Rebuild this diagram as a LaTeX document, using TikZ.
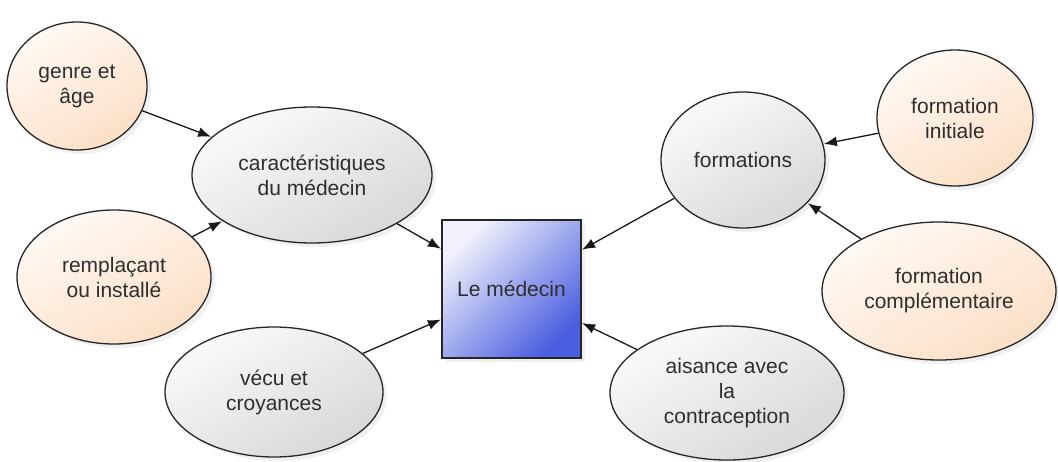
\documentclass[tikz,border=0pt]{standalone}
\usepackage{fontspec}
\setmainfont{Liberation Sans}
\usetikzlibrary{shapes.geometric,shadows,arrows.meta}
\definecolor{txt}{HTML}{2E2E2E}
\definecolor{greyA}{HTML}{FAFAFA}
\definecolor{greyB}{HTML}{D8D8D8}
\definecolor{orA}{HTML}{FFF9F4}
\definecolor{orB}{HTML}{FCDFC6}
\definecolor{blA}{HTML}{F2F2FC}
\definecolor{blB}{HTML}{4A5EE0}
\begin{document}
\begin{tikzpicture}[x=1pt,y=-1pt,
  base/.style={draw=black!85, line width=1.3pt, inner sep=0pt, align=center,
    text=txt, font=\fontsize{21}{25}\selectfont,
    drop shadow={opacity=0.12, shadow xshift=4pt, shadow yshift=-4pt}},
  greyell/.style={base, ellipse, top color=greyA, bottom color=greyB, shading angle=30},
  orell/.style={base, ellipse, top color=orA, bottom color=orB, shading angle=30},
  centerbox/.style={base, rectangle, top color=blA, bottom color=blB, shading angle=45,
    minimum width=139pt, minimum height=138pt},
  conn/.style={-{Latex[length=13pt,width=10pt]}, line width=1.3pt, black!90, shorten >=0.5pt}]
\useasboundingbox (0,0) rectangle (1058,461);

\node[centerbox] (med) at (511.5,289) {Le médecin};

\node[orell, minimum width=140pt, minimum height=128pt] (genre) at (77,86) {genre et\\âge};
\node[greyell, minimum width=240pt, minimum height=136pt] (carac) at (312,175) {caractéristiques\\du médecin};
\node[orell, minimum width=194pt, minimum height=134pt] (rempl) at (114,277) {remplaçant\\ou installé};
\node[greyell, minimum width=218pt, minimum height=130pt] (vecu) at (274,392) {vécu et\\croyances};

\node[greyell, minimum width=164pt, minimum height=136pt] (form) at (743,160) {formations};
\node[orell, minimum width=156pt, minimum height=136pt] (init) at (955,118) {formation\\initiale};
\node[orell, minimum width=234pt, minimum height=138pt] (compl) at (939,291) {formation\\complémentaire};
\node[greyell, minimum width=234pt, minimum height=134pt] (ais) at (727,393) {aisance avec\\la\\contraception};

\draw[conn] (genre) -- (carac);
\draw[conn] (rempl) -- (carac);
\draw[conn] (carac) -- (med);
\draw[conn] (vecu) -- (med);
\draw[conn] (form) -- (med);
\draw[conn] (ais) -- (med);
\draw[conn] (init) -- (form);
\draw[conn] (compl) -- (form);
\end{tikzpicture}
\end{document}
